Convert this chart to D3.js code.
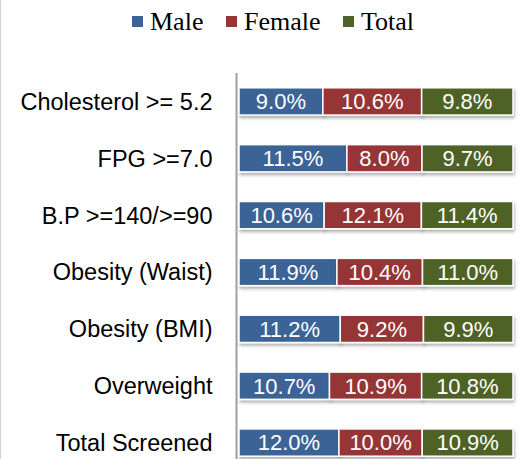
<!DOCTYPE html>
<html>
<head>
<meta charset="utf-8">
<title>Screening results by sex</title>
<style>
body { margin: 0; background: #fff; }
svg { display: block; }
.cat { font: 23.5px "Liberation Sans", Arial, sans-serif; fill: #000; }
.val { font: 22px "Liberation Sans", Arial, sans-serif; fill: #fff; }
.legend text { font: 26px "Liberation Serif", "Times New Roman", serif; fill: #000; }
</style>
</head>
<body>
<script src="https://cdn.jsdelivr.net/npm/d3@7"></script>
<script>
var categories = ["Cholesterol >= 5.2", "FPG >=7.0", "B.P >=140/>=90", "Obesity (Waist)",
                  "Obesity (BMI)", "Overweight", "Total Screened"];
var series = ["Male", "Female", "Total"];
var male   = [9.0, 11.5, 10.6, 11.9, 11.2, 10.7, 12.0];
var female = [10.6, 8.0, 12.1, 10.4, 9.2, 10.9, 10.0];
var total  = [9.8, 9.7, 11.4, 11.0, 9.9, 10.8, 10.9];
var colors = ["#3a6496", "#963634", "#4f6228"];

var width = 526, height = 459;

var svg = d3.select("body").append("svg")
    .attr("width", width)
    .attr("height", height);

// soft shadow like the excel original
var filter = svg.append("defs").append("filter")
    .attr("id", "shadow")
    .attr("x", "-5%").attr("y", "-20%")
    .attr("width", "110%").attr("height", "160%");
filter.append("feDropShadow")
    .attr("dx", 1).attr("dy", 2.5)
    .attr("stdDeviation", 1.5)
    .attr("flood-color", "#000")
    .attr("flood-opacity", 0.3);

// faint frame edge on the left
svg.append("line")
    .attr("x1", 0.5).attr("x2", 0.5)
    .attr("y1", 0).attr("y2", height)
    .attr("stroke", "#d4d4d4");

var rows = categories.map(function(c, i) {
  return { cat: c, Male: male[i], Female: female[i], Total: total[i] };
});

// 100% stacked
var stack = d3.stack().keys(series).offset(d3.stackOffsetExpand);
var layers = stack(rows);

var x = d3.scaleLinear().domain([0, 1]).range([239, 513]);
var y = d3.scaleBand().domain(categories).range([73, 471]).paddingInner(0.52).paddingOuter(0.26);

var g = svg.selectAll(".layer")
    .data(layers)
  .enter().append("g")
    .attr("class", "layer")
    .attr("fill", function(d, i) { return colors[i]; });

g.selectAll("rect")
    .data(function(d) { return d; })
  .enter().append("rect")
    .attr("x", function(d) { return x(d[0]); })
    .attr("y", function(d) { return y(d.data.cat); })
    .attr("width", function(d) { return x(d[1]) - x(d[0]); })
    .attr("height", y.bandwidth())
    .attr("stroke", "#fff")
    .attr("stroke-width", 1.5)
    .attr("filter", "url(#shadow)");

g.selectAll("text")
    .data(function(d) { return d.map(function(p) { p.key = d.key; return p; }); })
  .enter().append("text")
    .attr("class", "val")
    .attr("x", function(d) { return (x(d[0]) + x(d[1])) / 2; })
    .attr("y", function(d) { return y(d.data.cat) + y.bandwidth() / 2; })
    .attr("dy", "0.36em")
    .attr("text-anchor", "middle")
    .text(function(d) { return d3.format(".1f")(d.data[d.key]) + "%"; });

// axis
var yAxis = svg.append("g")
    .attr("transform", "translate(236.5,0)")
    .call(d3.axisLeft(y).tickSize(0).tickPadding(24));
yAxis.select(".domain").attr("stroke", "#a0a0a0").attr("stroke-width", 2)
    .attr("d", "M0,73V" + height);
yAxis.selectAll("text").attr("class", "cat").attr("font-size", null).attr("font-family", null)
    .attr("dy", "0.36em");

// legend
var legendX = [132, 226, 343];
var legend = svg.append("g").attr("class", "legend");
var items = legend.selectAll("g")
    .data(series)
  .enter().append("g")
    .attr("transform", function(d, i) { return "translate(" + legendX[i] + ",0)"; });
items.append("rect")
    .attr("x", 0).attr("y", 16)
    .attr("width", 11).attr("height", 11)
    .attr("fill", function(d, i) { return colors[i]; });
items.append("text")
    .attr("x", 18).attr("y", 30)
    .text(function(d) { return d; });
</script>
</body>
</html>
